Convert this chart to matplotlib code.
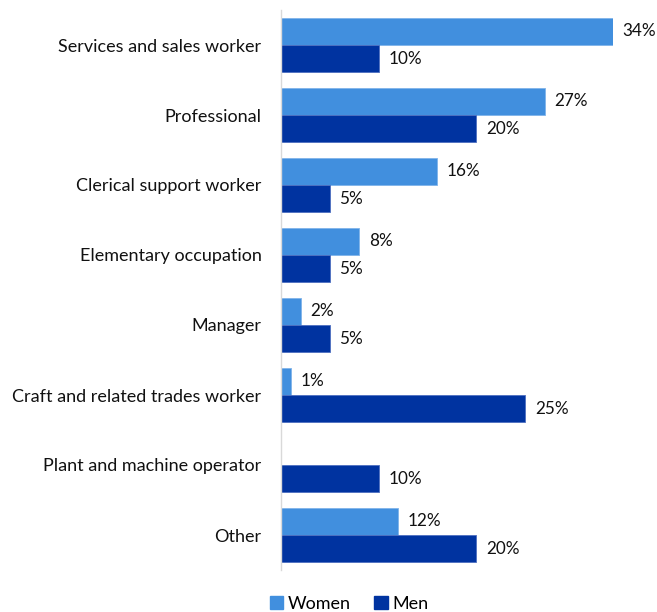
import matplotlib.pyplot as plt
import numpy as np
from matplotlib.patches import Patch

plt.rcParams['font.family'] = ['Lato', 'DejaVu Sans']

categories = [
    "Services and sales worker",
    "Professional",
    "Clerical support worker",
    "Elementary occupation",
    "Manager",
    "Craft and related trades worker",
    "Plant and machine operator",
    "Other",
]
women = [34, 27, 16, 8, 2, 1, 0, 12]
men = [10, 20, 5, 5, 5, 25, 10, 20]

women_color = "#418FDE"
men_color = "#0033A0"
text_color = "#111111"
fs = 13

fig = plt.figure(figsize=(6.57, 6.12), dpi=100)
ax = fig.add_axes([281 / 657, 1 - 570 / 612, 332 / 657, 560 / 612])

y = np.arange(len(categories))
h = 27 / 70

wb = ax.barh(y - h / 2, women, height=h, color=women_color,
             edgecolor="#7FB3EA", linewidth=0.6)
mb = ax.barh(y + h / 2, men, height=h, color=men_color,
             edgecolor="#4D6FC0", linewidth=0.6)

for bars, vals in ((wb, women), (mb, men)):
    for rect, v in zip(bars, vals):
        if v == 0:
            continue
        ax.annotate(f"{v}%", (rect.get_width(), rect.get_y() + rect.get_height() / 2),
                    xytext=(7, 0), textcoords="offset points",
                    ha="left", va="center", fontsize=12.3, color=text_color,
                    annotation_clip=False)

ax.set_xlim(0, 34)
ax.set_ylim(len(categories) - 0.5, -0.5)
ax.set_yticks(y)
ax.set_yticklabels(categories, fontsize=fs, color=text_color)
ax.tick_params(axis="y", length=0, pad=14)
ax.set_xticks([])
for s in ("top", "right", "bottom"):
    ax.spines[s].set_visible(False)
ax.spines["left"].set_color("#D9D9D9")
ax.spines["left"].set_linewidth(1.0)

handles = [Patch(color=women_color, label="Women"), Patch(color=men_color, label="Men")]
fig.legend(handles=handles, loc="center", bbox_to_anchor=(349 / 657, 1 - 604 / 612),
           ncol=2, frameon=False, fontsize=fs, handlelength=0.75, handleheight=0.75,
           handletextpad=0.25, columnspacing=1.3)

fig.savefig("out.png", dpi=100)
